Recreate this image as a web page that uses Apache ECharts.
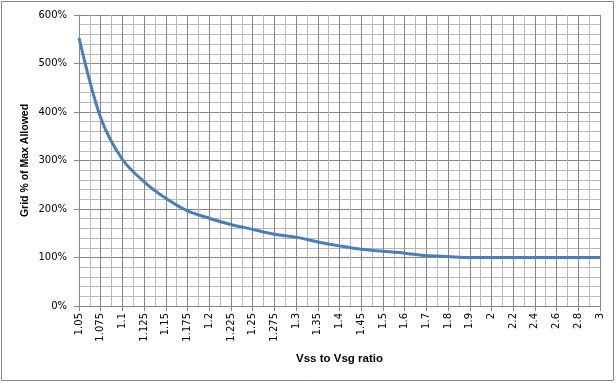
<!DOCTYPE html>
<html>
<head>
<meta charset="utf-8">
<script src="https://cdn.jsdelivr.net/npm/echarts@6/dist/echarts.min.js"></script>
<style>html,body{margin:0;padding:0;background:#fff}#c{width:616px;height:383px}</style>
</head>
<body>
<div id="c"></div>
<script>
var categories = ['1.05','1.075','1.1','1.125','1.15','1.175','1.2','1.225','1.25','1.275','1.3','1.35','1.4','1.45','1.5','1.6','1.7','1.8','1.9','2','2.2','2.4','2.6','2.8','3'];
var gridPct = [553, 388, 302, 256, 222, 196, 181, 168, 158, 148, 142, 132, 124, 117, 113, 109, 104, 102, 100, 100, 100, 100, 100, 100, 100];
var yTicks = [0, 100, 200, 300, 400, 500, 600];
var xTitle = 'Vss to Vsg ratio';
var yTitle = 'Grid % of Max Allowed';

var major = '#878787', minor = '#b8b8b8';
var chart = echarts.init(document.getElementById('c'));
chart.setOption({
  animation: false,
  backgroundColor: '#fff',
  grid: {left: 79, right: 16, top: 15, bottom: 77, containLabel: false},
  graphic: [{type: 'rect', shape: {x: 1.5, y: 1.5, width: 612, height: 379}, style: {fill: 'none', stroke: major, lineWidth: 1}, z: -1}],
  xAxis: [{
    type: 'category', data: categories, boundaryGap: false,
    name: xTitle, nameLocation: 'middle', nameGap: 47, nameMoveOverlap: false,
    nameTextStyle: {fontFamily: 'Liberation Sans', fontWeight: 'bold', fontSize: 11.5, color: '#000'},
    axisLine: {lineStyle: {color: major, width: 1}},
    axisTick: {show: true, length: 5, lineStyle: {color: major}},
    axisLabel: {rotate: 90, margin: 7, interval: 0, fontFamily: 'DejaVu Sans', fontSize: 10, color: '#000'},
    splitLine: {show: false}
  }, {
    type: 'value', min: 0, max: categories.length - 1, interval: 1, position: 'top',
    axisLine: {show: false}, axisTick: {show: false}, axisLabel: {show: false},
    minorTick: {show: false, splitNumber: 2},
    splitLine: {show: true, lineStyle: {color: major, width: 1}},
    minorSplitLine: {show: true, lineStyle: {color: minor, width: 1}}
  }],
  yAxis: {
    type: 'value', min: yTicks[0], max: yTicks[yTicks.length - 1], interval: 100,
    name: yTitle, nameLocation: 'middle', nameGap: 48, nameMoveOverlap: false,
    nameTextStyle: {fontFamily: 'Liberation Sans', fontWeight: 'bold', fontSize: 10.5, color: '#000'},
    axisLine: {show: true, lineStyle: {color: major, width: 1}},
    axisTick: {show: true, length: 5, lineStyle: {color: major}},
    axisLabel: {formatter: '{value}%', margin: 12, fontFamily: 'DejaVu Sans', fontSize: 10, color: '#000'},
    minorTick: {show: false, splitNumber: 5},
    splitLine: {show: true, lineStyle: {color: major, width: 1}},
    minorSplitLine: {show: true, lineStyle: {color: minor, width: 1}}
  },
  series: [{
    type: 'line', data: gridPct, xAxisIndex: 0, smooth: 0.3, symbol: 'none',
    lineStyle: {color: '#4a7ebb', width: 3}
  }]
});
</script>
</body>
</html>
